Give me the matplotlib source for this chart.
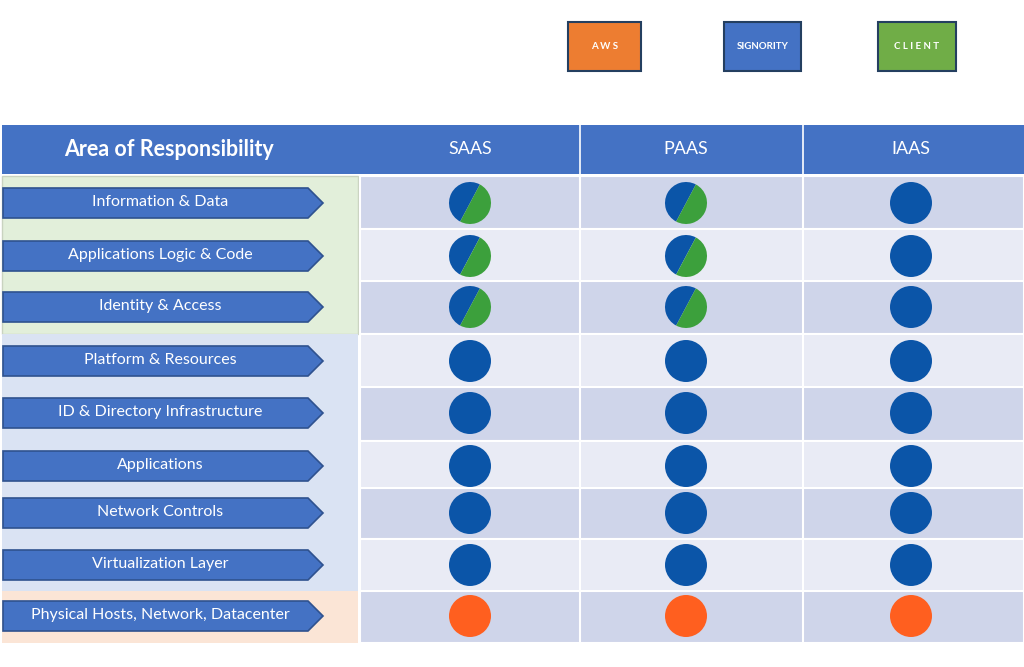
import matplotlib.pyplot as plt
from matplotlib.patches import Rectangle, Polygon, Wedge, Circle

plt.rcParams["font.family"] = "Lato"

areas = [
    "Information & Data",
    "Applications Logic & Code",
    "Identity & Access",
    "Platform & Resources",
    "ID & Directory Infrastructure",
    "Applications",
    "Network Controls",
    "Virtualization Layer",
    "Physical Hosts, Network, Datacenter",
]
models = ["SAAS", "PAAS", "IAAS"]
# owner per row per model: "split" = signority/client, "sig" = signority, "aws" = AWS
saas = ["split", "split", "split", "sig", "sig", "sig", "sig", "sig", "aws"]
paas = ["split", "split", "split", "sig", "sig", "sig", "sig", "sig", "aws"]
iaas = ["sig", "sig", "sig", "sig", "sig", "sig", "sig", "sig", "aws"]
legend_labels = ["A W S", "SIGNORITY", "C L I E N T"]

BLUE = "#4472C4"
DARK = "#0B55A8"
GREEN = "#3CA03C"
ORANGE = "#FF5F1F"

fig = plt.figure(figsize=(10.24, 6.67), dpi=100)
ax = fig.add_axes([0, 0, 1, 1])
ax.set_xlim(0, 1024)
ax.set_ylim(667, 0)
ax.axis("off")

# legend boxes
for (x0, x1, c), lab in zip([(568, 641, "#ED7D31"), (724, 801, BLUE), (878, 956, "#70AD47")], legend_labels):
    ax.add_patch(Rectangle((x0, 22), x1 - x0, 49, fc=c, ec="#243F60", lw=1.5))
    ax.text((x0 + x1) / 2, 46.5, lab, color="white", fontsize=7, weight="bold",
            ha="center", va="center")

# header
ax.add_patch(Rectangle((2, 125), 1022, 49, fc=BLUE, ec="none"))
ax.text(169, 149, "Area of Responsibility", color="white", fontsize=15.5, weight="bold",
        ha="center", va="center")
col_x = [470, 686, 911]
for x, m in zip(col_x, models):
    ax.text(x, 149, m, color="white", fontsize=13, ha="center", va="center")
for x in [580, 803]:
    ax.plot([x, x], [125, 174], color="white", lw=1.2)

bounds = [176, 229, 281, 334, 387, 441, 488, 539, 591, 643]
centers = [203, 256, 307, 361, 413, 466, 513, 565, 616]

# group backgrounds on the left
ax.add_patch(Rectangle((2, 176), 356, 158, fc="#E2EFDA", ec="#C9D3C0", lw=1))
ax.add_patch(Rectangle((2, 334), 356, 257, fc="#DAE3F3", ec="none"))
ax.add_patch(Rectangle((2, 591), 356, 52, fc="#FBE5D6", ec="none"))

# row backgrounds
for i in range(len(areas)):
    fc = "#CFD5EA" if i % 2 == 0 else "#E9EBF5"
    ax.add_patch(Rectangle((360, bounds[i]), 664, bounds[i + 1] - bounds[i], fc=fc,
                           ec="white", lw=1.5))
for x in [580, 803]:
    ax.plot([x, x], [176, 643], color="white", lw=1.5)

# arrows
for y, lab in zip(centers, areas):
    h = 15
    pts = [(3, y - h), (308, y - h), (323, y), (308, y + h), (3, y + h)]
    ax.add_patch(Polygon(pts, closed=True, fc=BLUE, ec="#2F528F", lw=1.2))
    ax.text(160, y - 1, lab, color="white", fontsize=11.5, ha="center", va="center")

# markers
r = 21
for x, owners in zip(col_x, [saas, paas, iaas]):
    for y, o in zip(centers, owners):
        if o == "split":
            ax.add_patch(Wedge((x, y), r, 118, 298, fc=DARK, ec="none"))
            ax.add_patch(Wedge((x, y), r, 298, 478, fc=GREEN, ec="none"))
        else:
            ax.add_patch(Circle((x, y), r, fc=DARK if o == "sig" else ORANGE, ec="none"))

fig.savefig("out.png", dpi=100)
